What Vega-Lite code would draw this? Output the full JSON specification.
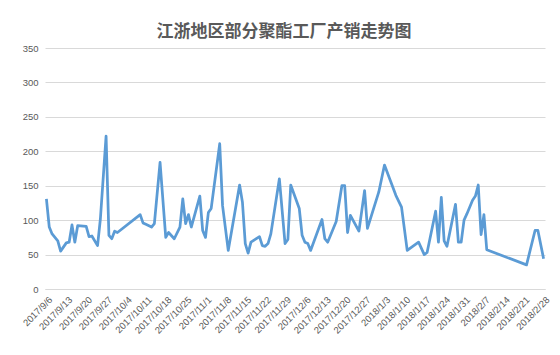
{
  "$schema": "https://vega.github.io/schema/vega-lite/v6.json",
  "width": 500,
  "height": 241,
  "autosize": "none",
  "padding": {"left": 45, "top": 48, "right": 15, "bottom": 66},
  "background": "white",
  "title": {
    "text": "江浙地区部分聚酯工厂产销走势图",
    "font": "Noto Sans CJK SC",
    "fontSize": 17,
    "fontWeight": "bold",
    "color": "#595959",
    "anchor": "middle",
    "dx": -11,
    "offset": 2
  },
  "data": {
    "values": [
      {"date": "2017/9/6", "value": 131},
      {"date": "2017/9/7", "value": 90},
      {"date": "2017/9/8", "value": 80},
      {"date": "2017/9/10", "value": 70},
      {"date": "2017/9/11", "value": 55},
      {"date": "2017/9/13", "value": 67},
      {"date": "2017/9/14", "value": 68},
      {"date": "2017/9/15", "value": 93},
      {"date": "2017/9/16", "value": 68},
      {"date": "2017/9/17", "value": 92},
      {"date": "2017/9/20", "value": 91},
      {"date": "2017/9/21", "value": 76},
      {"date": "2017/9/22", "value": 77},
      {"date": "2017/9/24", "value": 63},
      {"date": "2017/9/25", "value": 102},
      {"date": "2017/9/27", "value": 222},
      {"date": "2017/9/28", "value": 78},
      {"date": "2017/9/29", "value": 73},
      {"date": "2017/9/30", "value": 84},
      {"date": "2017/10/1", "value": 82},
      {"date": "2017/10/9", "value": 108},
      {"date": "2017/10/10", "value": 96},
      {"date": "2017/10/11", "value": 94},
      {"date": "2017/10/13", "value": 90},
      {"date": "2017/10/14", "value": 95},
      {"date": "2017/10/16", "value": 184},
      {"date": "2017/10/18", "value": 75},
      {"date": "2017/10/19", "value": 82},
      {"date": "2017/10/21", "value": 73},
      {"date": "2017/10/23", "value": 90},
      {"date": "2017/10/24", "value": 131},
      {"date": "2017/10/25", "value": 95},
      {"date": "2017/10/26", "value": 108},
      {"date": "2017/10/27", "value": 90},
      {"date": "2017/10/30", "value": 135},
      {"date": "2017/10/31", "value": 85},
      {"date": "2017/11/1", "value": 75},
      {"date": "2017/11/2", "value": 111},
      {"date": "2017/11/3", "value": 117},
      {"date": "2017/11/6", "value": 211},
      {"date": "2017/11/7", "value": 121},
      {"date": "2017/11/9", "value": 56},
      {"date": "2017/11/13", "value": 151},
      {"date": "2017/11/14", "value": 126},
      {"date": "2017/11/15", "value": 66},
      {"date": "2017/11/16", "value": 52},
      {"date": "2017/11/17", "value": 68},
      {"date": "2017/11/20", "value": 76},
      {"date": "2017/11/21", "value": 63},
      {"date": "2017/11/22", "value": 62},
      {"date": "2017/11/23", "value": 66},
      {"date": "2017/11/24", "value": 80},
      {"date": "2017/11/27", "value": 160},
      {"date": "2017/11/29", "value": 66},
      {"date": "2017/11/30", "value": 72},
      {"date": "2017/12/1", "value": 151},
      {"date": "2017/12/4", "value": 117},
      {"date": "2017/12/5", "value": 78},
      {"date": "2017/12/6", "value": 68},
      {"date": "2017/12/7", "value": 66},
      {"date": "2017/12/8", "value": 56},
      {"date": "2017/12/12", "value": 101},
      {"date": "2017/12/13", "value": 73},
      {"date": "2017/12/14", "value": 68},
      {"date": "2017/12/17", "value": 98},
      {"date": "2017/12/19", "value": 150},
      {"date": "2017/12/20", "value": 150},
      {"date": "2017/12/21", "value": 82},
      {"date": "2017/12/22", "value": 107},
      {"date": "2017/12/25", "value": 84},
      {"date": "2017/12/27", "value": 143},
      {"date": "2017/12/28", "value": 88},
      {"date": "2018/1/1", "value": 141},
      {"date": "2018/1/3", "value": 180},
      {"date": "2018/1/7", "value": 136},
      {"date": "2018/1/9", "value": 119},
      {"date": "2018/1/11", "value": 56},
      {"date": "2018/1/15", "value": 68},
      {"date": "2018/1/17", "value": 50},
      {"date": "2018/1/18", "value": 53},
      {"date": "2018/1/21", "value": 113},
      {"date": "2018/1/22", "value": 68},
      {"date": "2018/1/23", "value": 133},
      {"date": "2018/1/24", "value": 70},
      {"date": "2018/1/25", "value": 62},
      {"date": "2018/1/28", "value": 123},
      {"date": "2018/1/29", "value": 68},
      {"date": "2018/1/30", "value": 68},
      {"date": "2018/1/31", "value": 100},
      {"date": "2018/2/1", "value": 109},
      {"date": "2018/2/3", "value": 129},
      {"date": "2018/2/4", "value": 135},
      {"date": "2018/2/5", "value": 151},
      {"date": "2018/2/6", "value": 79},
      {"date": "2018/2/7", "value": 108},
      {"date": "2018/2/8", "value": 57},
      {"date": "2018/2/22", "value": 35},
      {"date": "2018/2/25", "value": 85},
      {"date": "2018/2/26", "value": 85},
      {"date": "2018/2/28", "value": 44}
    ]
  },
  "mark": {"type": "line", "color": "#5B9BD5", "strokeWidth": 2.75, "strokeJoin": "round"},
  "encoding": {
    "x": {
      "field": "date",
      "type": "temporal",
      "scale": {
        "domain": [
          {"year": 2017, "month": 9, "date": 5, "hours": 12},
          {"year": 2018, "month": 2, "date": 28, "hours": 12}
        ]
      },
      "axis": {
        "title": null,
        "values": [
          {"year": 2017, "month": 9, "date": 6},
          {"year": 2017, "month": 9, "date": 13},
          {"year": 2017, "month": 9, "date": 20},
          {"year": 2017, "month": 9, "date": 27},
          {"year": 2017, "month": 10, "date": 4},
          {"year": 2017, "month": 10, "date": 11},
          {"year": 2017, "month": 10, "date": 18},
          {"year": 2017, "month": 10, "date": 25},
          {"year": 2017, "month": 11, "date": 1},
          {"year": 2017, "month": 11, "date": 8},
          {"year": 2017, "month": 11, "date": 15},
          {"year": 2017, "month": 11, "date": 22},
          {"year": 2017, "month": 11, "date": 29},
          {"year": 2017, "month": 12, "date": 6},
          {"year": 2017, "month": 12, "date": 13},
          {"year": 2017, "month": 12, "date": 20},
          {"year": 2017, "month": 12, "date": 27},
          {"year": 2018, "month": 1, "date": 3},
          {"year": 2018, "month": 1, "date": 10},
          {"year": 2018, "month": 1, "date": 17},
          {"year": 2018, "month": 1, "date": 24},
          {"year": 2018, "month": 1, "date": 31},
          {"year": 2018, "month": 2, "date": 7},
          {"year": 2018, "month": 2, "date": 14},
          {"year": 2018, "month": 2, "date": 21},
          {"year": 2018, "month": 2, "date": 28}
        ],
        "format": "%Y/%-m/%-d",
        "formatType": "time",
        "labelAngle": -45,
        "labelAlign": "right",
        "labelBaseline": "middle",
        "labelPadding": 9,
        "labelOffset": 4,
        "labelFont": "Liberation Sans",
        "labelFontSize": 9.5,
        "labelColor": "#595959",
        "labelOverlap": false,
        "labelBound": false,
        "labelFlush": false,
        "grid": false,
        "ticks": false,
        "domain": true,
        "domainColor": "#D9D9D9",
        "domainWidth": 1
      }
    },
    "y": {
      "field": "value",
      "type": "quantitative",
      "scale": {"domain": [0, 350], "nice": false},
      "axis": {
        "title": null,
        "values": [0, 50, 100, 150, 200, 250, 300, 350],
        "labelFont": "Liberation Sans",
        "labelFontSize": 9.5,
        "labelColor": "#595959",
        "labelPadding": 7,
        "grid": true,
        "gridColor": "#D9D9D9",
        "gridWidth": 1,
        "ticks": false,
        "domain": false
      }
    }
  },
  "config": {"view": {"stroke": null}}
}
